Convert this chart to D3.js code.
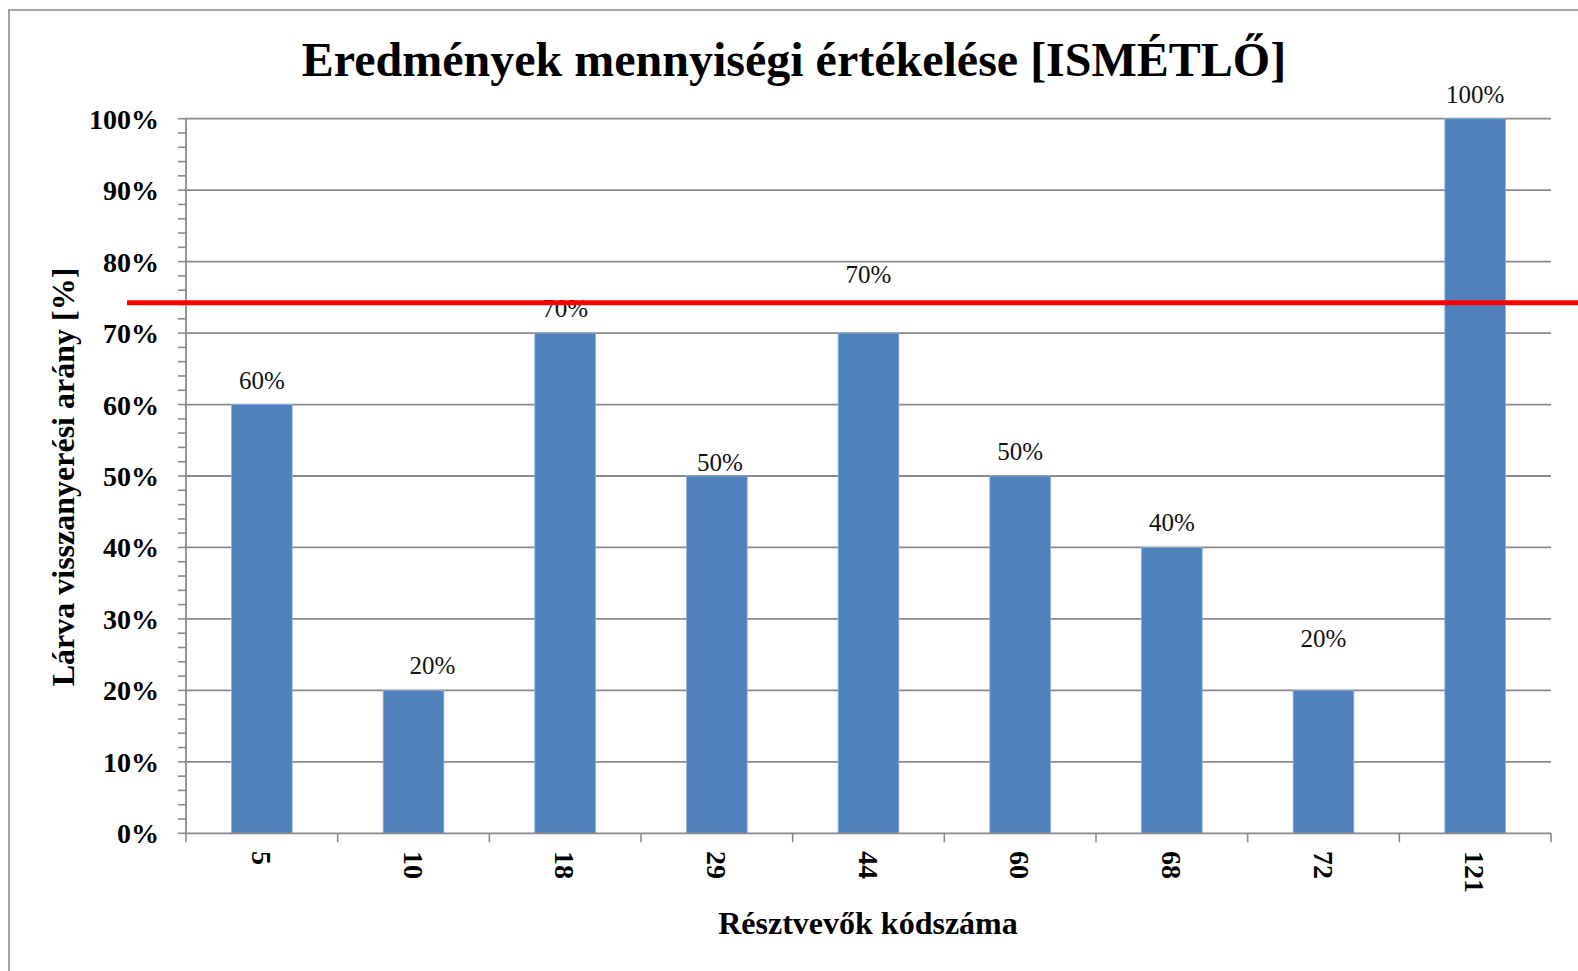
<!DOCTYPE html>
<html><head><meta charset="utf-8">
<script src="https://cdn.jsdelivr.net/npm/d3@7"></script>
<style>
html,body{margin:0;padding:0;background:#fff;}
svg{display:block;font-family:"Liberation Serif","Times New Roman",serif;}
</style></head>
<body>
<svg id="chart" width="1578" height="971"></svg>
<script>
// ---- data ----
const categories = ["5", "10", "18", "29", "44", "60", "68", "72", "121"];
const values = [0.60, 0.20, 0.70, 0.50, 0.70, 0.50, 0.40, 0.20, 1.00];
const yTicks = [0, 0.1, 0.2, 0.3, 0.4, 0.5, 0.6, 0.7, 0.8, 0.9, 1.0];
const thresholdValue = [0.7425];
const titleText = "Eredmények mennyiségi értékelése [ISMÉTLŐ]";
const yTitleText = "Lárva visszanyerési arány [%]";
const xTitleText = "Résztvevők kódszáma";

// ---- layout ----
(function () {
const svg = d3.select("#chart");
const pL = 186, pR = 1551, pT = 118.7, pB = 833.3;
const x = d3.scaleBand().domain(categories).range([pL, pR]).paddingInner(0.6).paddingOuter(0.3);
const y = d3.scaleLinear().domain([0, 1]).range([pB, pT]);
const pct = d3.format(".0%");
const grid = "#8a8a8a";

// outer chart border (right/bottom are off-canvas)
svg.append("path").attr("d", "M1590,10 H9 V990")
  .attr("fill", "none").attr("stroke", "#8c8c8c").attr("stroke-width", 1.6);

// title
svg.append("text").attr("x", 794).attr("y", 76).attr("text-anchor", "middle")
  .attr("font-size", 48).attr("font-weight", "bold").text(titleText);

// gridlines
svg.append("g").selectAll("line").data(yTicks.slice(1)).join("line")
  .attr("x1", pL).attr("x2", pR).attr("y1", d => y(d)).attr("y2", d => y(d))
  .attr("stroke", grid).attr("stroke-width", 1.8);

// y axis with minor ticks
const minor = d3.range(0, 1.0001, 0.02);
svg.append("g").selectAll("line").data(minor).join("line")
  .attr("x1", pL - 8).attr("x2", pL).attr("y1", d => y(d)).attr("y2", d => y(d))
  .attr("stroke", grid).attr("stroke-width", 1.6);
svg.append("line").attr("x1", pL).attr("x2", pL).attr("y1", pT).attr("y2", pB)
  .attr("stroke", grid).attr("stroke-width", 1.8);
svg.append("g").selectAll("text").data(yTicks).join("text")
  .attr("x", 159).attr("y", d => y(d) + 10).attr("text-anchor", "end")
  .attr("font-size", 28).attr("font-weight", "bold").text(d => pct(d));

// bars
svg.append("g").selectAll("rect").data(values).join("rect")
  .attr("x", (d, i) => x(categories[i])).attr("width", x.bandwidth())
  .attr("y", d => y(d)).attr("height", d => y(0) - y(d))
  .attr("fill", "#4f81bd").attr("stroke", "#8fb0d8").attr("stroke-width", 0.8);

// x axis
svg.append("line").attr("x1", pL).attr("x2", pR).attr("y1", pB).attr("y2", pB)
  .attr("stroke", grid).attr("stroke-width", 1.8);
const bounds = categories.map(c => x(c) - x.step() * x.paddingInner() / 2).concat([pR]);
bounds[0] = pL;
svg.append("g").selectAll("line").data(bounds).join("line")
  .attr("x1", d => d).attr("x2", d => d).attr("y1", pB).attr("y2", pB + 9)
  .attr("stroke", grid).attr("stroke-width", 1.6);
svg.append("g").selectAll("text").data(categories).join("text")
  .attr("transform", d => `translate(${x(d) + x.bandwidth() / 2},851) rotate(90)`)
  .attr("dy", "0.35em").attr("text-anchor", "start")
  .attr("font-size", 28).attr("font-weight", "bold").text(d => d);

// data labels (manually nudged in the original)
const labelNudge = [[0, 0], [19, 0], [0, 0], [3, 11], [0, -34], [0, 0], [0, 0], [0, -27], [0, 0]];
svg.append("g").selectAll("text").data(values).join("text")
  .attr("x", (d, i) => x(categories[i]) + x.bandwidth() / 2 + labelNudge[i][0])
  .attr("y", (d, i) => y(d) - 16 + labelNudge[i][1])
  .attr("text-anchor", "middle").attr("font-size", 25).attr("fill", "#111").text(d => pct(d));

// threshold line
svg.append("g").selectAll("line").data(thresholdValue).join("line")
  .attr("x1", 127).attr("x2", 1578).attr("y1", d => y(d)).attr("y2", d => y(d))
  .attr("stroke", "#ff0000").attr("stroke-width", 5);

// axis titles
svg.append("text").attr("transform", "translate(74,477) rotate(-90)")
  .attr("text-anchor", "middle").attr("font-size", 32).attr("font-weight", "bold").text(yTitleText);
svg.append("text").attr("x", 868).attr("y", 934).attr("text-anchor", "middle")
  .attr("font-size", 32).attr("font-weight", "bold").text(xTitleText);
})();
</script>
</body></html>
